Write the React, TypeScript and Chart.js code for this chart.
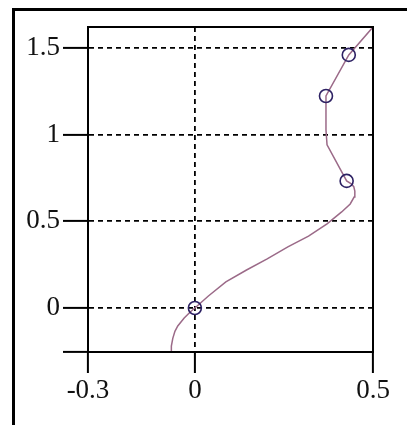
import React, { useEffect, useRef } from "react";
import { Chart, registerables } from "chart.js";

Chart.register(...registerables);

// Curve
const curveX = [-0.067, -0.066, -0.062, -0.056, -0.048, -0.03, -0.013, 0, 0.038, 0.087, 0.145, 0.203, 0.261, 0.319, 0.371, 0.412, 0.436, 0.447, 0.449, 0.446, 0.438, 0.426, 0.371, 0.368, 0.368, 0.432, 0.5];
const curveY = [-0.254, -0.22, -0.175, -0.135, -0.104, -0.058, -0.023, 0, 0.069, 0.15, 0.219, 0.283, 0.352, 0.415, 0.485, 0.554, 0.6, 0.64, 0.675, 0.7, 0.718, 0.733, 0.941, 1.027, 1.223, 1.46, 1.621];

// Circle markers
const markerX = [0, 0.426, 0.368, 0.432];
const markerY = [0, 0.733, 1.223, 1.46];

// Axes
const xMin = -0.3;
const xMax = 0.5;
const yMin = -0.254;
const yMax = 1.621;
const xTickValues = [-0.3, 0, 0.5];
const xTickLabels = ["-0.3", "0", "0.5"];
const yTickValues = [0, 0.5, 1, 1.5];
const yTickLabels = ["0", "0.5", "1", "1.5"];

const W = 409;
const H = 425;

export default function App() {
  const ref = useRef<HTMLCanvasElement | null>(null);

  useEffect(() => {
    if (!ref.current) return;
    const font = { family: "'Liberation Serif', 'Times New Roman', serif", size: 27 };
    const boxPlugin = {
      id: "box",
      afterDatasetsDraw(chart: any) {
        const { ctx, chartArea } = chart;
        ctx.save();
        ctx.strokeStyle = "#000";
        ctx.lineWidth = 2;
        ctx.strokeRect(chartArea.left, chartArea.top, chartArea.right - chartArea.left, chartArea.bottom - chartArea.top);
        ctx.restore();
      },
    };
    const chart = new Chart(ref.current, {
      type: "scatter",
      data: {
        datasets: [
          {
            data: curveX.map((x, i) => ({ x, y: curveY[i] })),
            showLine: true,
            borderColor: "#9b6a88",
            borderWidth: 1.5,
            pointRadius: 0,
            tension: 0,
            order: 2,
          },
          {
            data: markerX.map((x, i) => ({ x, y: markerY[i] })),
            showLine: false,
            pointRadius: 6.5,
            pointBorderWidth: 1.6,
            borderColor: "#2d2163",
            backgroundColor: "rgba(255,255,255,0)",
            pointBackgroundColor: "rgba(255,255,255,0)",
            pointBorderColor: "#2d2163",
            order: 1,
          },
        ],
      },
      options: {
        animation: false,
        responsive: false,
        maintainAspectRatio: false,
        layout: { padding: { top: 27, right: 36, left: 0, bottom: 0 } },
        plugins: { legend: { display: false }, tooltip: { enabled: false } },
        scales: {
          x: {
            type: "linear",
            min: xMin,
            max: xMax,
            afterBuildTicks: (scale: any) => {
              scale.ticks = xTickValues.map((v) => ({ value: v }));
            },
            afterFit: (scale: any) => {
              scale.height = 73;
            },
            ticks: {
              autoSkip: false,
              maxRotation: 0,
              color: "#111",
              padding: 2,
              font,
              callback: (value: any) => {
                const i = xTickValues.findIndex((v) => Math.abs(v - value) < 1e-9);
                return i >= 0 ? xTickLabels[i] : "";
              },
            },
            grid: {
              color: "#000",
              lineWidth: 1.8,
              tickLength: 21,
              tickColor: "#000",
              tickWidth: 2,
              tickBorderDash: [],
            },
            border: { display: true, color: "#000", width: 2, dash: [5, 4] },
          },
          y: {
            type: "linear",
            min: yMin,
            max: yMax,
            afterBuildTicks: (scale: any) => {
              scale.ticks = [{ value: yMin }, ...yTickValues.map((v) => ({ value: v }))];
            },
            afterFit: (scale: any) => {
              scale.width = 88;
            },
            ticks: {
              autoSkip: false,
              color: "#111",
              padding: 3,
              font,
              callback: (value: any) => {
                const i = yTickValues.findIndex((v) => Math.abs(v - value) < 1e-9);
                return i >= 0 ? yTickLabels[i] : "";
              },
            },
            grid: {
              color: "#000",
              lineWidth: 1.8,
              tickLength: 25,
              tickColor: "#000",
              tickWidth: 2,
              tickBorderDash: [],
            },
            border: { display: true, color: "#000", width: 2, dash: [5, 4] },
          },
        },
      },
      plugins: [boxPlugin],
    } as any);
    return () => chart.destroy();
  }, []);

  return (
    <div style={{ position: "fixed", left: 0, top: 0, width: W, height: H, background: "#fff", overflow: "hidden" }}>
      <div
        style={{
          position: "absolute",
          left: 12,
          top: 8,
          width: W - 14,
          height: H,
          borderLeft: "3px solid #000",
          borderTop: "3px solid #000",
          boxSizing: "border-box",
        }}
      />
      <canvas ref={ref} width={W} height={H} style={{ position: "absolute", left: 0, top: 0, width: W, height: H }} />
    </div>
  );
}
